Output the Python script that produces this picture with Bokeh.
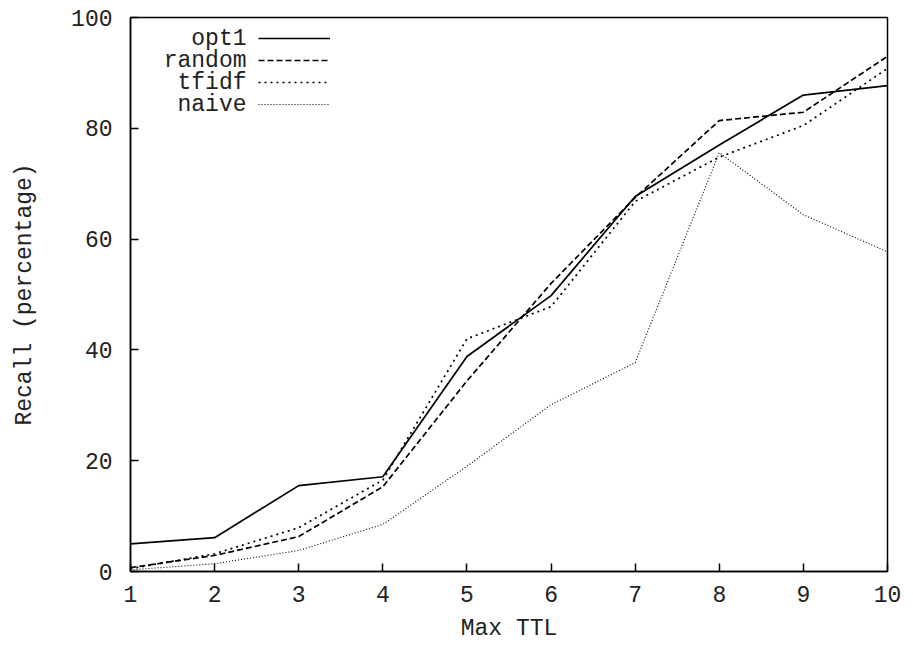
from bokeh.plotting import figure
from bokeh.models import Range1d, FixedTicker, Legend, LegendItem, Label
from bokeh.embed import file_html
from bokeh.resources import INLINE

ttl = [1, 2, 3, 4, 5, 6, 7, 8, 9, 10]
opt1 = [5.0, 6.1, 15.5, 17.1, 38.8, 49.8, 67.7, 77.0, 86.0, 87.7]
random_ = [0.7, 2.9, 6.3, 15.3, 34.4, 52.0, 67.5, 81.4, 82.9, 93.0]
tfidf = [0.5, 3.2, 7.9, 16.5, 42.0, 47.8, 66.8, 74.8, 80.5, 90.8]
naive = [0.3, 1.4, 3.8, 8.5, 19.0, 30.1, 37.7, 75.6, 64.4, 57.7]
names = ["opt1", "random", "tfidf", "naive"]
x_ticks = [1, 2, 3, 4, 5, 6, 7, 8, 9, 10]
y_ticks = [0, 20, 40, 60, 80, 100]

FONT = "Liberation Mono"
FS = "23px"
TXT = "#222222"

W, H = 903, 648
p = figure(width=W, height=H, output_backend="svg", toolbar_location=None,
           x_range=Range1d(1, 10), y_range=Range1d(0, 100),
           min_border_left=130, min_border_right=16, min_border_top=17,
           min_border_bottom=77)
p.grid.visible = False
p.outline_line_color = "black"
p.outline_line_width = 1.5
p.background_fill_color = "white"
p.border_fill_color = "white"

for ax in (p.xaxis[0], p.yaxis[0]):
    ax.major_tick_in = 8
    ax.major_tick_out = 0
    ax.minor_tick_in = 0
    ax.minor_tick_out = 0
    ax.axis_line_width = 1.5
    ax.major_tick_line_width = 1.5
    ax.major_label_text_font = FONT
    ax.major_label_text_font_size = FS
    ax.major_label_text_color = TXT
    ax.axis_label_text_font = FONT
    ax.axis_label_text_font_size = FS
    ax.axis_label_text_font_style = "normal"
    ax.axis_label_text_color = TXT

p.xaxis.ticker = FixedTicker(ticks=x_ticks)
p.yaxis.ticker = FixedTicker(ticks=y_ticks)
p.xaxis.axis_label = "Max TTL"
p.yaxis.axis_label = "Recall (percentage)"
p.xaxis.major_label_standoff = 14
p.yaxis.major_label_standoff = 18
p.xaxis.axis_label_standoff = 11
p.yaxis.axis_label_standoff = 30

r1 = p.line(ttl, opt1, line_color="black", line_width=1.7)
r2 = p.line(ttl, random_, line_color="black", line_width=1.7, line_dash="6 3")
r3 = p.line(ttl, tfidf, line_color="black", line_width=1.7, line_dash="2 4")
r4 = p.line(ttl, naive, line_color="black", line_width=1.1, line_dash="1 2")

legend = Legend(items=[LegendItem(label=" ", renderers=[r]) for r in (r1, r2, r3, r4)],
                location=(128, 456), glyph_width=72, glyph_height=22,
                label_width=0, label_standoff=0, spacing=0, padding=0, margin=0,
                border_line_color=None, background_fill_alpha=0,
                label_text_font_size="1px", label_height=22)
p.add_layout(legend, "center")

for i, n in enumerate(names):
    p.add_layout(Label(x=116, y=533 - i * 22, x_units="screen", y_units="screen",
                       text=n, text_align="right", text_baseline="middle",
                       text_font=FONT, text_font_size=FS, text_color=TXT))

open("out.html", "w").write(file_html(p, INLINE))
